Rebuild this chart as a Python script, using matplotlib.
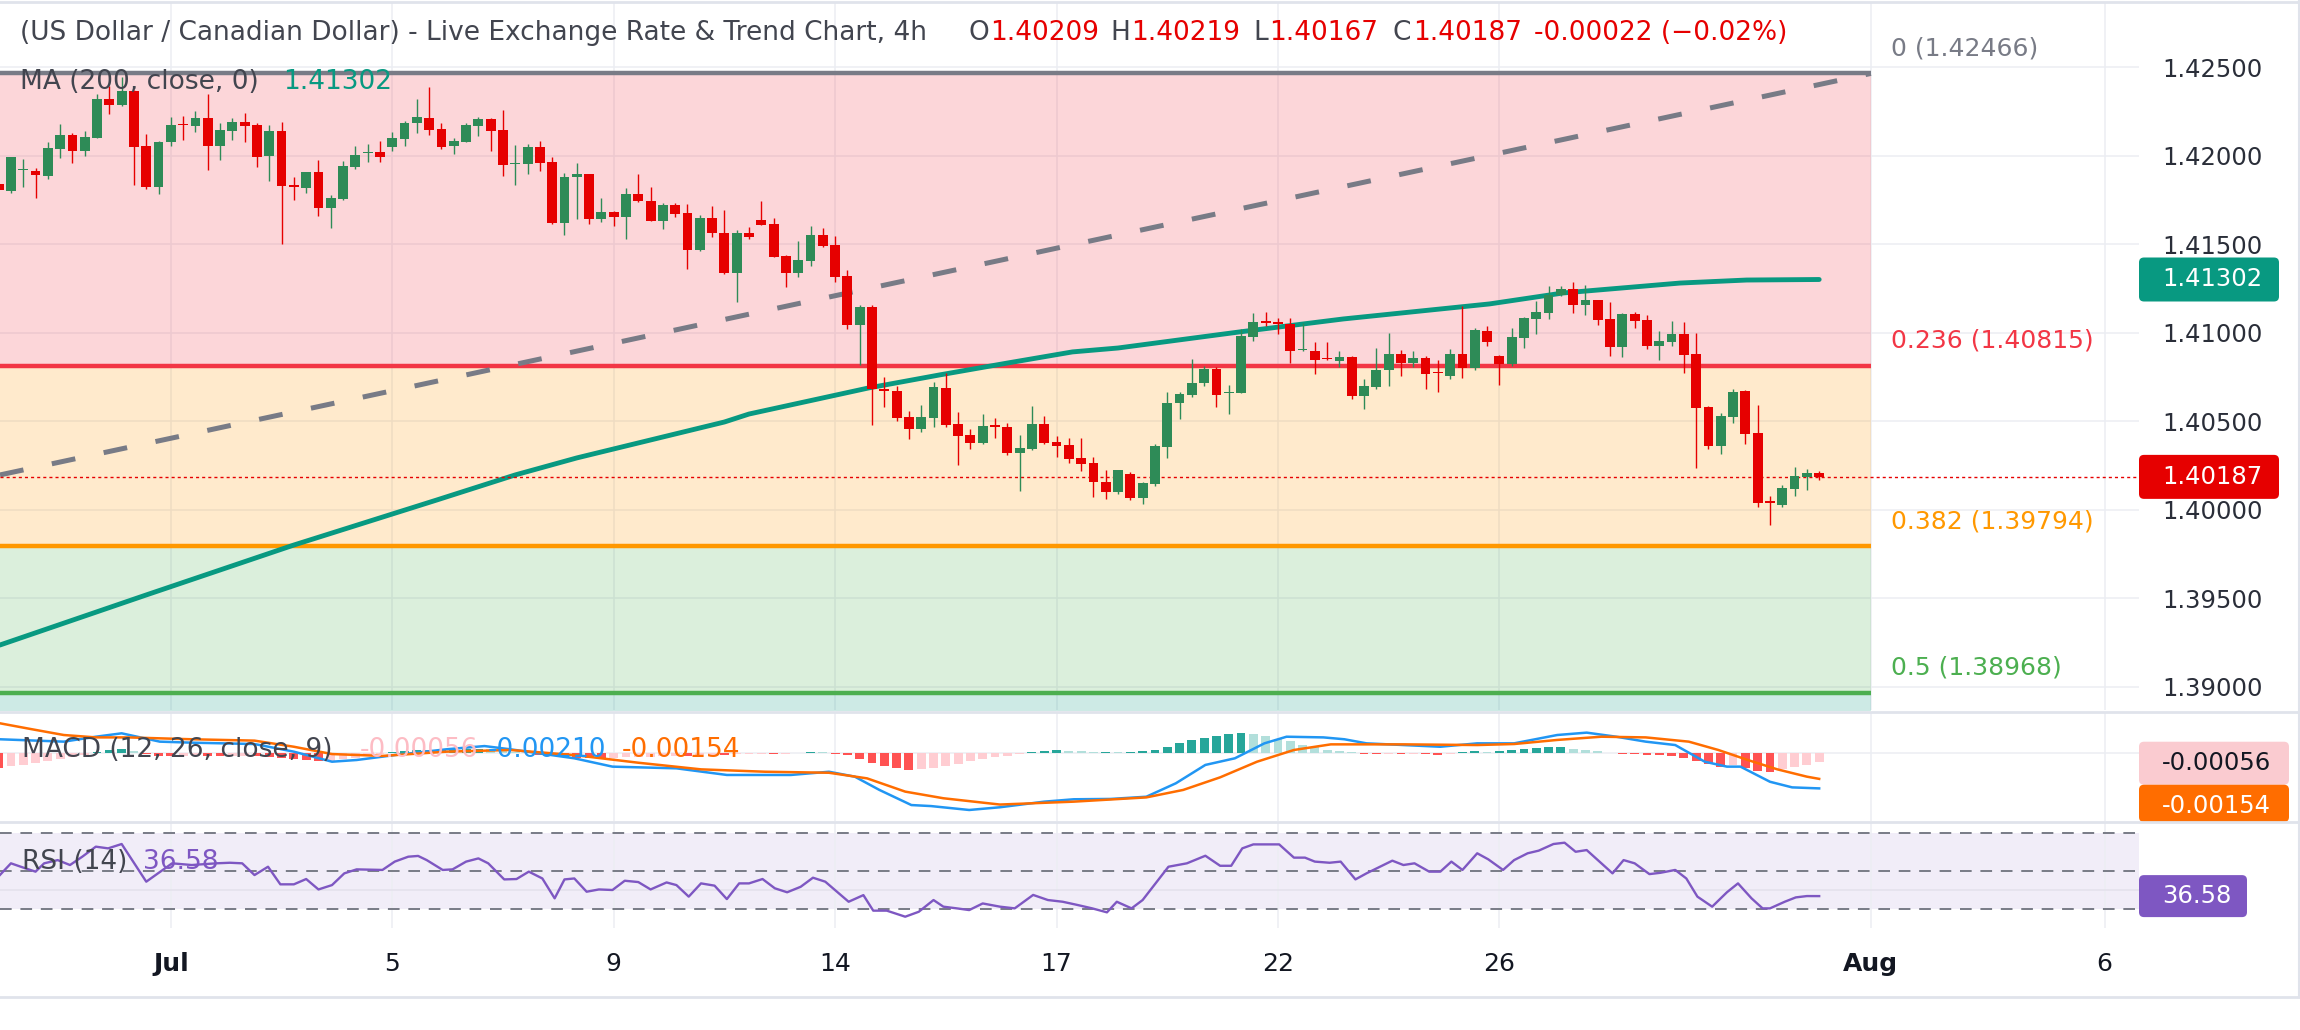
import matplotlib
matplotlib.use('Agg')
import matplotlib.pyplot as plt
from matplotlib.patches import FancyBboxPatch
from matplotlib.lines import Line2D
from matplotlib.transforms import IdentityTransform

plt.rcParams['font.family'] = ['DejaVu Sans']

W, H = 2300, 1030

# 4h USD/CAD candles (bar 0 is cut by the left edge)
opens = [1.41840, 1.41804, 1.41918, 1.41914, 1.41889, 1.42041, 1.42117, 1.42030, 1.42103, 1.42320,
         1.42290, 1.42369, 1.42057, 1.41827, 1.42081, 1.42178, 1.42171, 1.42213, 1.42057, 1.42142,
         1.42190, 1.42175, 1.42000, 1.42141, 1.41836, 1.41821, 1.41910, 1.41708, 1.41759, 1.41940,
         1.42015, 1.42023, 1.42049, 1.42098, 1.42185, 1.42215, 1.42153, 1.42057, 1.42081, 1.42171,
         1.42209, 1.42147, 1.41955, 1.41955, 1.42049, 1.41966, 1.41620, 1.41880, 1.41897, 1.41646,
         1.41684, 1.41657, 1.41784, 1.41746, 1.41634, 1.41721, 1.41676, 1.41469, 1.41648, 1.41563,
         1.41337, 1.41563, 1.41638, 1.41616, 1.41435, 1.41341, 1.41408, 1.41554, 1.41497, 1.41322,
         1.41047, 1.41149, 1.40685, 1.40674, 1.40525, 1.40459, 1.40521, 1.40689, 1.40486, 1.40424,
         1.40380, 1.40478, 1.40470, 1.40323, 1.40343, 1.40486, 1.40384, 1.40367, 1.40292, 1.40264,
         1.40158, 1.40103, 1.40202, 1.40069, 1.40147, 1.40358, 1.40603, 1.40651, 1.40719, 1.40795,
         1.40660, 1.40663, 1.40979, 1.41068, 1.41060, 1.41051, 1.40902, 1.40897, 1.40859, 1.40844,
         1.40863, 1.40646, 1.40697, 1.40791, 1.40881, 1.40832, 1.40859, 1.40780, 1.40759, 1.40881,
         1.40800, 1.41011, 1.40870, 1.40826, 1.40973, 1.41081, 1.41115, 1.41213, 1.41247, 1.41160,
         1.41186, 1.41079, 1.40923, 1.41107, 1.41073, 1.40927, 1.40951, 1.40994, 1.40881, 1.40582,
         1.40363, 1.40527, 1.40672, 1.40435, 1.40051, 1.40030, 1.40116, 1.40188, 1.40209]
highs = [1.41850, 1.41995, 1.41981, 1.41930, 1.42077, 1.42181, 1.42132, 1.42140, 1.42350, 1.42396,
         1.42448, 1.42375, 1.42124, 1.42085, 1.42222, 1.42226, 1.42253, 1.42350, 1.42188, 1.42215,
         1.42241, 1.42188, 1.42175, 1.42194, 1.41880, 1.41912, 1.41977, 1.41778, 1.41972, 1.42057,
         1.42068, 1.42085, 1.42136, 1.42198, 1.42322, 1.42392, 1.42188, 1.42103, 1.42188, 1.42222,
         1.42216, 1.42260, 1.42062, 1.42068, 1.42085, 1.41993, 1.41902, 1.41959, 1.41900, 1.41763,
         1.41689, 1.41819, 1.41897, 1.41827, 1.41734, 1.41733, 1.41729, 1.41665, 1.41718, 1.41695,
         1.41582, 1.41597, 1.41746, 1.41648, 1.41441, 1.41520, 1.41605, 1.41593, 1.41548, 1.41356,
         1.41158, 1.41158, 1.40750, 1.40701, 1.40558, 1.40593, 1.40723, 1.40776, 1.40554, 1.40456,
         1.40542, 1.40521, 1.40493, 1.40424, 1.40588, 1.40531, 1.40418, 1.40407, 1.40407, 1.40298,
         1.40226, 1.40228, 1.40213, 1.40158, 1.40373, 1.40665, 1.40665, 1.40851, 1.40814, 1.40806,
         1.40704, 1.41021, 1.41111, 1.41119, 1.41085, 1.41085, 1.41055, 1.40949, 1.40949, 1.40898,
         1.40870, 1.40740, 1.40917, 1.41000, 1.40904, 1.40898, 1.40870, 1.40847, 1.40910, 1.41153,
         1.41028, 1.41040, 1.40874, 1.41028, 1.41092, 1.41181, 1.41266, 1.41266, 1.41288, 1.41271,
         1.41188, 1.41175, 1.41110, 1.41120, 1.41102, 1.41011, 1.41068, 1.41062, 1.41000, 1.40585,
         1.40548, 1.40684, 1.40678, 1.40593, 1.40079, 1.40141, 1.40243, 1.40232, 1.40219]
lows = [1.41800, 1.41793, 1.41823, 1.41761, 1.41872, 1.41990, 1.41962, 1.42000, 1.42100, 1.42239,
        1.42283, 1.41838, 1.41815, 1.41785, 1.42057, 1.42090, 1.42137, 1.41921, 1.41977, 1.42090,
        1.42079, 1.41940, 1.41860, 1.41504, 1.41751, 1.41793, 1.41663, 1.41595, 1.41751, 1.41925,
        1.41968, 1.41968, 1.42030, 1.42057, 1.42128, 1.42120, 1.42041, 1.42011, 1.42079, 1.42113,
        1.42030, 1.41887, 1.41836, 1.41898, 1.41917, 1.41615, 1.41555, 1.41644, 1.41616, 1.41629,
        1.41606, 1.41533, 1.41740, 1.41632, 1.41589, 1.41657, 1.41363, 1.41465, 1.41544, 1.41335,
        1.41177, 1.41529, 1.41608, 1.41429, 1.41258, 1.41318, 1.41378, 1.41488, 1.41290, 1.41024,
        1.40819, 1.40480, 1.40584, 1.40504, 1.40403, 1.40442, 1.40467, 1.40467, 1.40254, 1.40346,
        1.40373, 1.40407, 1.40312, 1.40109, 1.40339, 1.40373, 1.40301, 1.40267, 1.40222, 1.40072,
        1.40064, 1.40090, 1.40056, 1.40034, 1.40136, 1.40292, 1.40516, 1.40640, 1.40702, 1.40584,
        1.40542, 1.40660, 1.40955, 1.41040, 1.40994, 1.40832, 1.40900, 1.40768, 1.40849, 1.40810,
        1.40629, 1.40572, 1.40685, 1.40702, 1.40759, 1.40810, 1.40685, 1.40668, 1.40738, 1.40747,
        1.40789, 1.40926, 1.40706, 1.40813, 1.40915, 1.40994, 1.41081, 1.41211, 1.41115, 1.41103,
        1.41047, 1.40872, 1.40866, 1.41028, 1.40911, 1.40847, 1.40926, 1.40776, 1.40239, 1.40345,
        1.40316, 1.40493, 1.40374, 1.40019, 1.39917, 1.40019, 1.40081, 1.40115, 1.40167]
closes = [1.41808, 1.41993, 1.41925, 1.41891, 1.42044, 1.42117, 1.42030, 1.42106, 1.42320, 1.42290,
          1.42369, 1.42053, 1.41827, 1.42081, 1.42175, 1.42173, 1.42213, 1.42057, 1.42147, 1.42190,
          1.42171, 1.41996, 1.42141, 1.41831, 1.41823, 1.41910, 1.41708, 1.41763, 1.41942, 1.42004,
          1.42023, 1.41996, 1.42100, 1.42188, 1.42219, 1.42147, 1.42053, 1.42086, 1.42175, 1.42209,
          1.42143, 1.41949, 1.41960, 1.42049, 1.41962, 1.41620, 1.41880, 1.41897, 1.41646, 1.41682,
          1.41657, 1.41784, 1.41747, 1.41634, 1.41723, 1.41672, 1.41469, 1.41648, 1.41563, 1.41337,
          1.41563, 1.41544, 1.41610, 1.41431, 1.41341, 1.41412, 1.41554, 1.41492, 1.41318, 1.41047,
          1.41149, 1.40682, 1.40674, 1.40521, 1.40459, 1.40525, 1.40693, 1.40480, 1.40420, 1.40380,
          1.40474, 1.40470, 1.40320, 1.40352, 1.40486, 1.40380, 1.40362, 1.40290, 1.40260, 1.40160,
          1.40103, 1.40226, 1.40069, 1.40151, 1.40362, 1.40603, 1.40655, 1.40716, 1.40795, 1.40651,
          1.40668, 1.40983, 1.41060, 1.41058, 1.41052, 1.40900, 1.40909, 1.40847, 1.40851, 1.40863,
          1.40646, 1.40700, 1.40791, 1.40881, 1.40832, 1.40859, 1.40770, 1.40772, 1.40881, 1.40800,
          1.41017, 1.40949, 1.40826, 1.40977, 1.41085, 1.41119, 1.41215, 1.41247, 1.41160, 1.41186,
          1.41075, 1.40923, 1.41107, 1.41069, 1.40927, 1.40955, 1.40994, 1.40876, 1.40578, 1.40363,
          1.40531, 1.40667, 1.40431, 1.40041, 1.40041, 1.40124, 1.40192, 1.40209, 1.40187]

# MA(200) read at points along the line: (bar, price)
ma_pts = [(0.1, 1.39237), (12, 1.39520), (24, 1.39802), (35.6, 1.40056), (42, 1.40198), (47, 1.40294),
          (59, 1.40497), (61, 1.40542), (70.7, 1.40689), (76.5, 1.40763), (82, 1.40830), (87.3, 1.40893),
          (91, 1.40915), (100.9, 1.41006), (109.3, 1.41079), (121.2, 1.41164), (127.2, 1.41226),
          (136.7, 1.41282), (142.1, 1.41299), (148, 1.41302)]

# fib retracement
fib_levels = [0.0, 0.236, 0.382, 0.5, 0.618]
fib_prices = [1.42466, 1.40815, 1.39794, 1.38968, 1.38142]
fib_colors = ['#787B86', '#F23645', '#FF9800', '#4CAF50', '#089981']
fib_end = 152.2
trend_bar = [0.11, 152.2]
trend_val = [1.40198, 1.42466]

# MACD (12, 26, close, 9)
macd_pts = [(0.1, 0.00079), (5.3, 0.00065), (7.9, 0.00094), (10.0, 0.00114), (13.1, 0.00065), (15.7, 0.00059),
            (20.8, 0.00051), (24.0, 0.00006), (27.1, -0.00053), (29.1, -0.00043), (32.2, -0.00014),
            (36.4, 0.00020), (39.5, 0.00039), (41.6, 0.00020), (46.8, -0.00033), (49.9, -0.00082),
            (55.1, -0.00092), (59.2, -0.00131), (64.4, -0.00131), (67.5, -0.00112), (69.6, -0.00141),
            (71.6, -0.00219), (74.2, -0.00308), (75.8, -0.00314), (78.9, -0.00337), (81.4, -0.00321),
            (85.0, -0.00288), (87.4, -0.00274), (90.4, -0.00272), (93.3, -0.00259), (95.7, -0.00180),
            (98.1, -0.00072), (100.5, -0.00033), (102.9, 0.00055), (104.7, 0.00094), (107.7, 0.00090),
            (109.4, 0.00079), (111.2, 0.00055), (114.2, 0.00045), (117.2, 0.00035), (120.2, 0.00055),
            (123.2, 0.00055), (126.7, 0.00104), (129.1, 0.00118), (131.5, 0.00094), (133.9, 0.00065),
            (136.3, 0.00045), (138.7, -0.00053), (140.5, -0.00082), (141.6, -0.00082), (144.0, -0.00171),
            (145.8, -0.00204), (148.0, -0.00210)]
signal_pts = [(0.1, 0.00173), (2.7, 0.00138), (5.3, 0.00104), (7.9, 0.00090), (10.5, 0.00090), (15.7, 0.00079),
              (20.8, 0.00071), (24.0, 0.00035), (27.1, -0.00008), (31.2, -0.00019), (36.4, 0.00006),
              (41.6, 0.00016), (46.8, -0.00014), (52.0, -0.00059), (57.1, -0.00098), (62.3, -0.00112),
              (67.5, -0.00118), (70.6, -0.00151), (73.7, -0.00229), (76.8, -0.00268), (81.4, -0.00305),
              (87.4, -0.00288), (93.3, -0.00263), (96.3, -0.00219), (99.3, -0.00145), (102.3, -0.00053),
              (105.3, 0.00016), (108.3, 0.00049), (114.3, 0.00049), (120.2, 0.00045), (123.2, 0.00051),
              (126.7, 0.00075), (130.3, 0.00094), (133.9, 0.00090), (137.4, 0.00065), (139.8, 0.00016),
              (142.2, -0.00043), (144.6, -0.00098), (147.0, -0.00141), (148.0, -0.00154)]
hist = [-0.00092, -0.00080, -0.00070, -0.00060, -0.00048,
        -0.00038, -0.00025, -0.00012,
        0.00005, 0.00015, 0.00022, 0.00012,
        -0.00008, -0.00018, -0.00022, -0.00020, -0.00018, -0.00020,
        -0.00022, -0.00020, -0.00018, -0.00020, -0.00024, -0.00030,
        -0.00036, -0.00044, -0.00050, -0.00048, -0.00040,
        -0.00030, -0.00018, -0.00006,
        0.00004, 0.00010, 0.00014, 0.00016, 0.00018, 0.00020, 0.00022, 0.00024, 0.00020,
        0.00012, 0.00004, -0.00004, -0.00012, -0.00022,
        -0.00028, -0.00030, -0.00034, -0.00036, -0.00032, -0.00028, -0.00026,
        -0.00024, -0.00022, -0.00018, -0.00022, -0.00016, -0.00012, -0.00016, -0.00010,
        -0.00008, -0.00006, -0.00010, -0.00008, -0.00004, 0.00004, 0.00002,
        -0.00006, -0.00016, -0.00040, -0.00062, -0.00080, -0.00092, -0.00100, -0.00098,
        -0.00088, -0.00076, -0.00064, -0.00050, -0.00038, -0.00028,
        -0.00020, -0.00010, 0.00006, 0.00012, 0.00014,
        0.00010, 0.00008, 0.00006, 0.00006, 0.00004, 0.00005,
        0.00010, 0.00018, 0.00035, 0.00055, 0.00072, 0.00088, 0.00100, 0.00108, 0.00114,
        0.00110, 0.00098, 0.00082, 0.00066, 0.00048,
        0.00032, 0.00018, 0.00008, 0.00002,
        -0.00008, -0.00010, -0.00006, -0.00010, -0.00008, -0.00010, -0.00012, -0.00008,
        0.00004, 0.00008, 0.00006, 0.00012, 0.00016, 0.00022, 0.00028,
        0.00034, 0.00034, 0.00024, 0.00016, 0.00008,
        -0.00004, -0.00006, -0.00008, -0.00012, -0.00014, -0.00020, -0.00030,
        -0.00050, -0.00068, -0.00082, -0.00072, -0.00088, -0.00105, -0.00112,
        -0.00096, -0.00084, -0.00070, -0.00056]

# RSI (14)
rsi_pts = [(0.1, 47.7), (1.0, 53.9), (2.2, 51.2), (3.0, 49.5), (3.7, 53.9), (4.8, 55.6), (5.8, 53.0),
           (6.8, 57.4), (7.9, 62.7), (8.9, 61.8), (10.0, 64.1), (12.0, 44.2), (14.1, 53.9), (15.7, 53.0),
           (17.7, 53.9), (18.8, 54.2), (19.8, 53.9), (20.8, 47.7), (21.9, 52.1), (22.9, 42.8), (24.0, 42.8),
           (25.0, 45.6), (26.0, 40.1), (27.1, 42.4), (28.1, 48.6), (29.1, 50.7), (31.2, 50.4), (32.2, 54.8),
           (33.3, 57.4), (34.1, 57.8), (34.8, 55.6), (36.1, 50.4), (36.9, 50.7), (38.0, 54.8), (39.0, 56.5),
           (39.8, 53.9), (41.1, 45.4), (42.1, 45.6), (43.1, 49.5), (44.2, 45.9), (45.2, 35.4), (46.0, 45.4),
           (46.8, 45.9), (47.8, 38.9), (48.8, 40.1), (49.9, 39.8), (50.9, 44.7), (52.0, 44.0), (53.0, 40.1),
           (54.3, 43.8), (55.1, 42.4), (56.1, 36.3), (57.1, 43.3), (58.2, 42.1), (59.2, 35.0), (60.2, 43.3),
           (61.0, 43.3), (62.1, 45.6), (63.1, 40.7), (64.1, 38.6), (65.2, 41.5), (66.2, 46.3), (67.2, 44.2),
           (69.1, 33.6), (70.3, 37.1), (71.1, 28.9), (72.2, 28.9), (73.7, 25.7), (74.8, 28.3), (76.0, 34.5),
           (76.8, 31.0), (77.9, 30.1), (78.9, 29.2), (80.0, 32.7), (81.4, 31.0), (82.6, 30.1), (84.1, 37.2),
           (85.3, 34.5), (86.5, 33.6), (87.7, 31.9), (88.9, 30.1), (90.1, 28.0), (90.9, 33.6), (92.1, 30.1),
           (93.0, 34.5), (95.1, 52.1), (96.6, 53.9), (98.1, 57.9), (99.3, 52.6), (100.2, 52.6), (101.1, 61.8),
           (102.0, 63.9), (104.1, 63.9), (105.3, 56.9), (106.2, 56.9), (107.0, 54.8), (108.2, 54.2),
           (109.1, 54.8), (110.3, 45.4), (111.2, 48.6), (113.3, 55.3), (114.2, 53.0), (115.1, 53.9),
           (116.3, 49.5), (117.2, 49.5), (118.1, 54.8), (119.0, 50.4), (120.2, 59.2), (121.1, 56.0),
           (122.3, 50.4), (123.2, 55.6), (124.3, 59.2), (125.2, 60.6), (126.4, 64.1), (127.3, 64.8),
           (128.2, 60.0), (129.1, 60.9), (131.2, 48.6), (132.1, 55.6), (133.0, 53.9), (134.2, 48.2),
           (135.1, 48.9), (136.3, 50.4), (137.2, 45.9), (138.1, 36.3), (139.3, 31.0), (140.5, 38.6),
           (141.4, 43.3), (142.5, 35.4), (143.4, 30.1), (144.0, 30.1), (145.2, 33.6), (146.1, 35.9),
           (147.0, 36.6), (148.0, 36.58)]

price_ticks = [1.390, 1.395, 1.400, 1.405, 1.410, 1.415, 1.420, 1.425]
day_ticks = [14, 32, 50, 68, 86, 104, 122, 152.2, 171.2]
day_labels = ['Jul', '5', '9', '14', '17', '22', '26', 'Aug', '6']

UP, DOWN = '#2E8B57', '#E60000'
GRID = '#ECEEF3'
TXT = '#42454F'


def fx(px):
    return px / W


def fy(py):
    return 1 - py / H


fig = plt.figure(figsize=(W / 100, H / 100), dpi=100, facecolor='white')
ax_p = fig.add_axes([0, fy(710), fx(2139), (710 - 3) / H])
ax_m = fig.add_axes([0, fy(821), fx(2139), (821 - 713) / H], sharex=ax_p)
ax_r = fig.add_axes([0, fy(928), fx(2139), (928 - 823) / H], sharex=ax_p)

for ax in (ax_p, ax_m, ax_r):
    for s in ax.spines.values():
        s.set_visible(False)
    ax.set_axisbelow(True)
    ax.tick_params(length=0)
    ax.grid(True, axis='x', color=GRID, lw=1.1)
ax_p.set_xlim(0.11, 174.0)
ax_p.set_xticks(day_ticks)

# ---- price pane ----
ax_p.set_ylim(1.38870, 1.42864)
ax_p.grid(True, axis='y', color=GRID, lw=1.1)
ax_p.yaxis.tick_right()
ax_p.set_yticks(price_ticks)
ax_p.set_yticklabels([f'{t:.5f}' for t in price_ticks])
ax_p.tick_params(axis='y', pad=16.5, labelsize=17.5, labelcolor='#2A2E39')
ax_p.tick_params(axis='x', labelbottom=False)

for k in range(len(fib_prices) - 1):
    ax_p.fill_between([-5, fib_end], fib_prices[k + 1], fib_prices[k],
                      color=fib_colors[k + 1], alpha=0.2, lw=0, zorder=1)
for k in range(4):
    ax_p.plot([-5, fib_end], [fib_prices[k]] * 2, color=fib_colors[k], lw=3.2,
              solid_capstyle='butt', zorder=2)
    ax_p.annotate(f'{fib_levels[k]:g} ({fib_prices[k]:.5f})', (fib_end, fib_prices[k]),
                  xytext=(14.5, 18), textcoords='offset points', va='center', ha='left',
                  color=fib_colors[k], fontsize=18, annotation_clip=False)

ax_p.plot(trend_bar, trend_val, color='#787B86', lw=3.6, dashes=(4.8, 5.8), zorder=2.5)
ax_p.plot([p[0] for p in ma_pts], [p[1] for p in ma_pts], color='#089981', lw=3.5,
          solid_capstyle='round', zorder=3)
ax_p.axhline(closes[-1], color=DOWN, lw=1.0, linestyle=(0, (2.2, 2.2)), zorder=3.5)

xs = list(range(len(opens)))
cols = [UP if c >= o else DOWN for o, c in zip(opens, closes)]
ax_p.vlines(xs, lows, highs, colors=cols, lw=1.0, zorder=4)
ax_p.bar(xs, [max(abs(c - o), 0.00006) for o, c in zip(opens, closes)],
         bottom=[min(o, c) for o, c in zip(opens, closes)], width=0.8, color=cols, lw=0, zorder=5)

# ---- MACD pane ----
ax_m.set_ylim(-0.004018, 0.002335)
ax_m.set_yticks([])
ax_m.tick_params(axis='x', labelbottom=False)
ax_m.axhline(0, color=GRID, lw=1.1, zorder=0.5)
hcols = []
for i, v in enumerate(hist):
    prev = hist[i - 1] if i > 0 else v + 1e-4
    if v >= 0:
        hcols.append('#26A69A' if v >= prev else '#B2DFDB')
    else:
        hcols.append('#FF5252' if v < prev else '#FFCDD2')
ax_m.bar(range(len(hist)), hist, width=0.72, color=hcols, lw=0, zorder=2)
ax_m.plot([p[0] for p in macd_pts], [p[1] for p in macd_pts], color='#2196F3', lw=1.8, zorder=3)
ax_m.plot([p[0] for p in signal_pts], [p[1] for p in signal_pts], color='#FF6D00', lw=1.8, zorder=3)

# ---- RSI pane ----
ax_r.set_ylim(19.73, 75.2)
ax_r.set_yticks([])
ax_r.axhspan(30, 70, color='#7E57C2', alpha=0.1, lw=0, zorder=0.3)
ax_r.axhline(40, color='#E3E0EC', lw=1.1, zorder=0.6)
for lvl in (70, 50, 30):
    ax_r.axhline(lvl, color='#787B86', lw=1.4, dashes=(6.0, 4.5), zorder=1)
ax_r.plot([p[0] for p in rsi_pts], [p[1] for p in rsi_pts], color='#7E57C2', lw=1.7, zorder=3)
ax_r.set_xticklabels(day_labels)
ax_r.tick_params(axis='x', pad=17, labelsize=18, labelcolor='#131722')
for t in ax_r.get_xticklabels():
    if t.get_text() in ('Jul', 'Aug'):
        t.set_fontweight('bold')

# ---- separators and borders ----
for yy in (1.5, 711.5, 822, 997):
    fig.add_artist(Line2D([0, 1], [fy(yy)] * 2, color='#E0E3EB', lw=2.0))
fig.add_artist(Line2D([fx(2299), fx(2299)], [fy(0), fy(997)], color='#E0E3EB', lw=1.5))


# ---- legends ----
def txt(px, py, s, color, size=19, **kw):
    fig.text(fx(px), fy(py), s, color=color, fontsize=size, va='center', ha='left', **kw)


txt(20, 33, '(US Dollar / Canadian Dollar) - Live Exchange Rate & Trend Chart, 4h', TXT)
for px, s, c in [(968, 'O', TXT), (990, '1.40209', DOWN), (1110, 'H', TXT), (1131, '1.40219', DOWN),
                 (1253, 'L', TXT), (1269, '1.40167', DOWN), (1393, 'C', TXT), (1413, '1.40187', DOWN),
                 (1534, '-0.00022 (\u22120.02%)', DOWN)]:
    txt(px, 33, s, c)
txt(20, 82, 'MA (200, close, 0)', TXT)
txt(283, 82, f'{ma_pts[-1][1]:.5f}', '#089981')
txt(22, 750, 'MACD (12, 26, close, 9)', TXT)
txt(360, 750, f'{hist[-1]:.5f}', '#FDBCC4')
txt(488, 750, f'{macd_pts[-1][1]:.5f}', '#2196F3')
txt(622, 750, f'{signal_pts[-1][1]:.5f}', '#FF6D00')
txt(22, 862, 'RSI (14)', TXT)
txt(143, 862, f'{rsi_pts[-1][1]:.2f}', '#7E57C2')


# ---- price-scale value tags ----
def pix_y(ax, v):
    return H - ax.transData.transform((0, v))[1]


def tag(yc, text, fc, tc, x1, h=44, top=None, bottom=None):
    y0 = yc - h / 2 if top is None else top
    y1 = y0 + h
    if bottom is not None:
        y1 = min(y1, bottom)
    box = FancyBboxPatch((2139, H - y1), x1 - 2139, y1 - y0, boxstyle='round,pad=0,rounding_size=5',
                         fc=fc, ec='none', transform=IdentityTransform())
    fig.add_artist(box)
    txt(2162, y0 + h / 2, text, tc, size=17.5)
    return y0 + h


tag(pix_y(ax_p, ma_pts[-1][1]), f'{ma_pts[-1][1]:.5f}', '#089981', 'white', 2279)
tag(pix_y(ax_p, closes[-1]), f'{closes[-1]:.5f}', DOWN, 'white', 2279)
pink_bottom = tag(pix_y(ax_m, hist[-1]) + 1, f'{hist[-1]:.5f}', '#FACBD0', '#131722', 2289, h=43)
tag(0, f'{signal_pts[-1][1]:.5f}', '#FF6D00', 'white', 2289, h=43, top=pink_bottom, bottom=822)
tag(pix_y(ax_r, rsi_pts[-1][1]), f'{rsi_pts[-1][1]:.2f}', '#7E57C2', 'white', 2247, h=42)

fig.savefig('out.png', dpi=100, facecolor='white')
